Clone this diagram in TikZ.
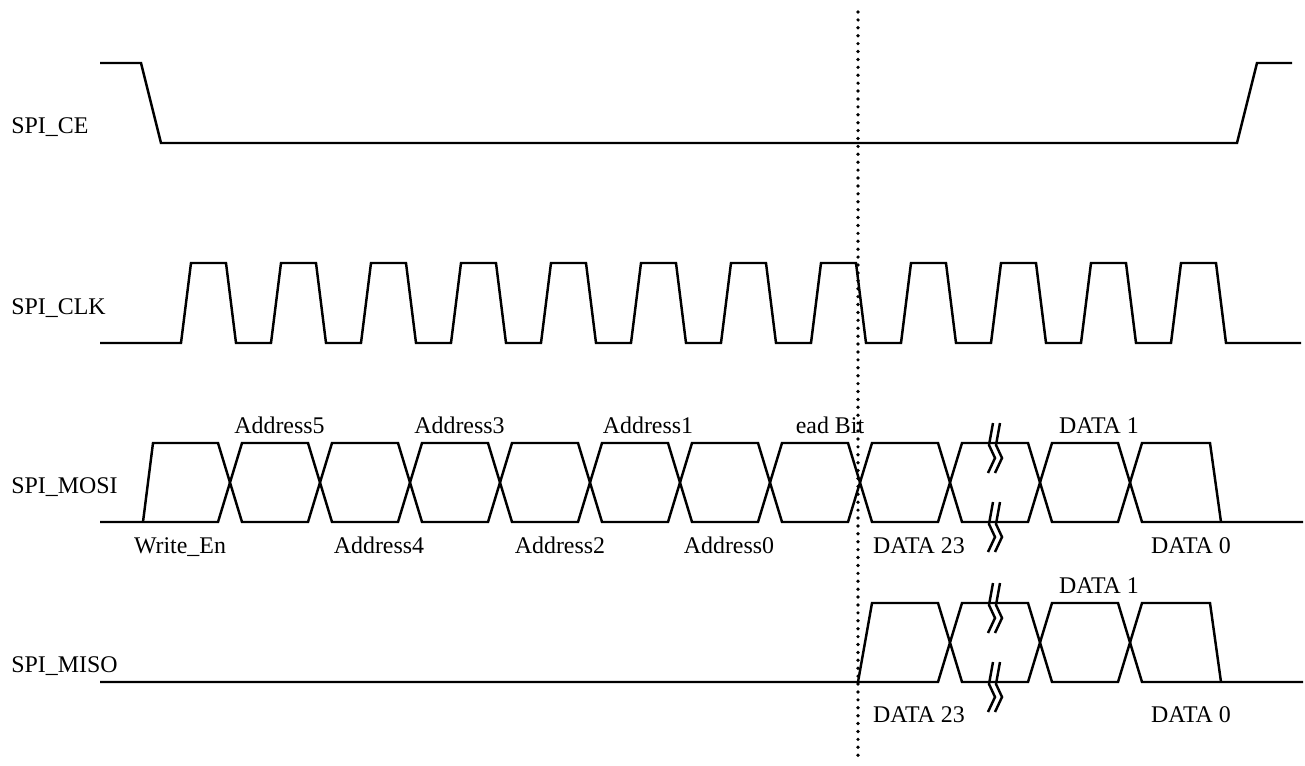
\documentclass[tikz,border=0pt]{standalone}
\usepackage{fontspec}
\setmainfont{Liberation Serif}
\begin{document}
\begin{tikzpicture}[x=0.02cm, y=-0.02cm,
  sig/.style={line width=1.4pt, line join=miter},
  signame/.style={anchor=base west, inner sep=0pt, font=\fontsize{13.6}{16}\selectfont},
  bitval/.style={anchor=base, inner sep=0pt, font=\fontsize{13.6}{16}\selectfont},
  marker/.style={line width=2.1pt, line cap=round, dash pattern=on 0pt off 4.5pt}]
\useasboundingbox (0,0) rectangle (1305,765);
\node[signame] (ce) at (11,133) {SPI\_CE};
\node[signame] (clk) at (11,314) {SPI\_CLK};
\node[signame] (mosi) at (11,493) {SPI\_MOSI};
\node[signame] (miso) at (11,672) {SPI\_MISO};
% chip enable
\draw[sig] (100,63) -- (141,63) -- (161,143) -- (1237,143) -- (1257,63) -- (1292,63);
% clock
\draw[sig] (100,343) -- (181,343)
  \foreach \k in {0,...,11} { -- ++(10,-80) -- ++(35,0) -- ++(10,80) -- ++(35,0) }
  -- (1301,343);
% master out
\draw[sig] (100,522) -- (218,522) -- (230,482.5);
\draw[sig] (143,522) -- (153,443) -- (218,443) -- (230,482.5);
\foreach \c in {230,320,...,1040}
  \draw[sig] (\c,482.5) -- (\c+12,443) -- (\c+78,443) -- (\c+90,482.5) -- (\c+78,522) -- (\c+12,522) -- cycle;
\draw[sig] (1130,482.5) -- (1142,443) -- (1210,443) -- (1221,522);
\draw[sig] (1130,482.5) -- (1142,522) -- (1303,522);
% master in
\draw[sig] (100,682) -- (938,682) -- (950,642.5);
\draw[sig] (858,682) -- (872,603) -- (938,603) -- (950,642.5);
\foreach \c in {950,1040}
  \draw[sig] (\c,642.5) -- (\c+12,603) -- (\c+78,603) -- (\c+90,642.5) -- (\c+78,682) -- (\c+12,682) -- cycle;
\draw[sig] (1130,642.5) -- (1142,603) -- (1210,603) -- (1221,682);
\draw[sig] (1130,642.5) -- (1142,682) -- (1303,682);
% break marks
\foreach \y in {443,522,603,682}
  \foreach \dx in {0,7}
    \draw[sig] (993+\dx,\y-20) -- (989+\dx,\y+2) -- (995+\dx,\y+15) -- (988+\dx,\y+30);
\draw[marker] (858,12) -- (858,762);
\node[bitval] (a5) at (279.5,433) {Address5};
\node[bitval] (a3) at (459.5,433) {Address3};
\node[bitval] (a1) at (648,433) {Address1};
\node[bitval] (rb) at (830,433) {ead Bit};
\node[bitval] (d1o) at (1099,433) {DATA 1};
\node[bitval] (we) at (180,553) {Write\_En};
\node[bitval] (a4) at (379,553) {Address4};
\node[bitval] (a2) at (560,553) {Address2};
\node[bitval] (a0) at (729,553) {Address0};
\node[bitval] (d23o) at (919,553) {DATA 23};
\node[bitval] (d0o) at (1191,553) {DATA 0};
\node[bitval] (d1i) at (1099,593) {DATA 1};
\node[bitval] (d23i) at (919,722) {DATA 23};
\node[bitval] (d0i) at (1191,722) {DATA 0};
\end{tikzpicture}
\end{document}
